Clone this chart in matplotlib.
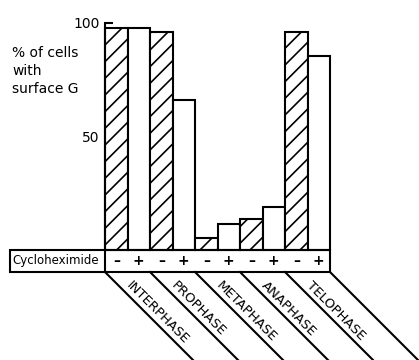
import numpy as np
import matplotlib
matplotlib.use("Agg")
import matplotlib.pyplot as plt
from matplotlib.patches import Rectangle
from matplotlib.lines import Line2D

# ---- data ----
phases = ["INTERPHASE", "PROPHASE", "METAPHASE", "ANAPHASE", "TELOPHASE"]
treatment = ["–", "+"]
without_chx = [97.7, 95.9, 4.9, 13.3, 96.2]   # cycloheximide -
with_chx = [97.9, 66.0, 11.1, 18.6, 85.4]     # cycloheximide +
yticks = [50, 100]
ylabel = "% of cells\nwith\nsurface G"
row_label = "Cycloheximide"

plt.rcParams['font.family'] = ['DejaVu Sans']
plt.rcParams['hatch.linewidth'] = 1.2
plt.rcParams['hatch.color'] = 'black'

W, H = 419, 360
fig = plt.figure(figsize=(W / 100, H / 100), dpi=100)
ax_l, ax_r, ax_b, ax_t = 105, 330, 249.5, 23.0   # pixel frame (y from top)
ax = fig.add_axes([ax_l / W, (H - ax_b) / H, (ax_r - ax_l) / W, (ax_b - ax_t) / H])
ax.set_xlim(0, 10)
ax.set_ylim(0, 100)
ppx = (ax_r - ax_l) / 10.0      # pixels per x unit
ppy = (ax_b - ax_t) / 100.0     # pixels per y unit

lw = 1.5
vals, hatches, signs = [], [], []
for a, b in zip(without_chx, with_chx):
    vals += [a, b]
    hatches += ["//", ""]
    signs += treatment
xs = np.arange(len(vals)) + 0.5
for x, v, h in zip(xs, vals, hatches):
    ax.bar(x, v, width=1.0, facecolor="white", edgecolor="black",
           linewidth=lw, hatch=h, clip_on=False, zorder=2)

for s in ["top", "right", "bottom"]:
    ax.spines[s].set_visible(False)
ax.spines["left"].set_linewidth(lw)
ax.set_xticks([])
ax.set_yticks(yticks)
ax.set_yticklabels([str(t) for t in yticks], fontsize=10)
ax.tick_params(axis="y", direction="in", length=6, width=lw, pad=4)

ax.text(-(ax_l - 12) / ppx, (ax_b - 71) / ppy, ylabel, ha="left", va="center",
        fontsize=10, linespacing=1.35)

# ---- cycloheximide row box ----
box_left = -(ax_l - 10) / ppx
box_bot = -(272 - ax_b) / ppy
ax.add_patch(Rectangle((box_left, box_bot), 10 - box_left, -box_bot, fill=False,
                       edgecolor="black", linewidth=lw, clip_on=False, zorder=3))
ax.add_line(Line2D([0, 0], [box_bot, 0], color="black", linewidth=lw, clip_on=False))
ax.text(box_left + 2.5 / ppx, box_bot / 2, row_label, ha="left", va="center",
        fontsize=8.5)
for x, s in zip(xs, signs):
    ax.text(x, box_bot / 2, s, ha="center", va="center", fontsize=10,
            fontweight="bold")

# ---- diagonal phase bands ----
L = 140
for k in range(len(phases) + 1):
    x0 = 2 * k
    ax.add_line(Line2D([x0, x0 + L / ppx], [box_bot, box_bot - L / ppy],
                       color="black", linewidth=lw, clip_on=False))
for k, name in enumerate(phases):
    x0 = 2 * k
    ax.text(x0 + 21 / ppx, box_bot - 14 / ppy, name, rotation=-45,
            rotation_mode="anchor", ha="left", va="baseline", fontsize=9.5)

fig.savefig("out.png", dpi=100)
